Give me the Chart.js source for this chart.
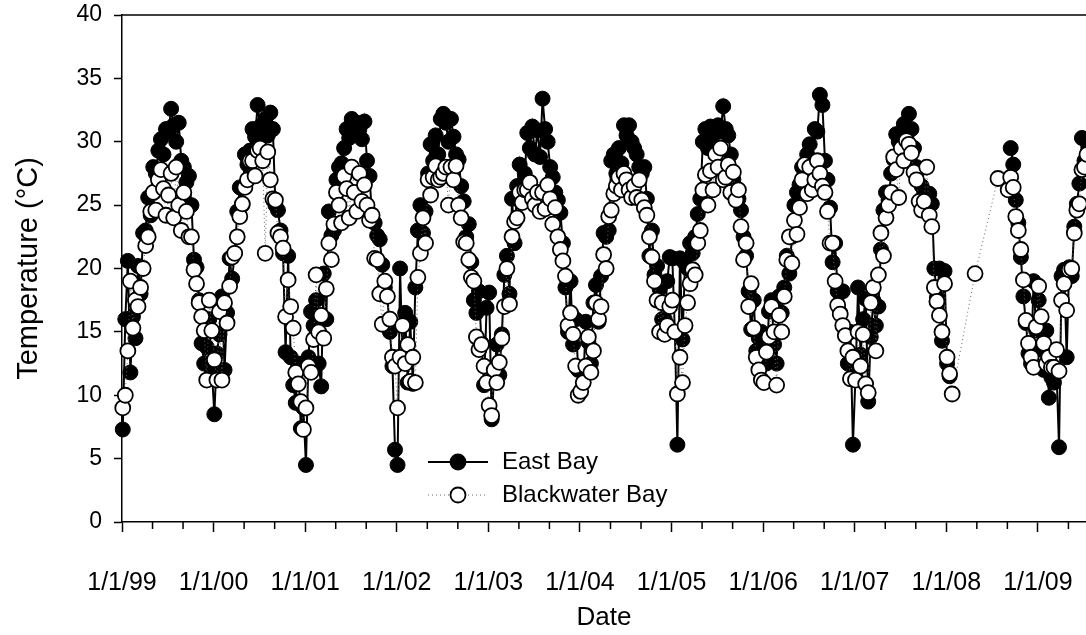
<!DOCTYPE html>
<html>
<head>
<meta charset="utf-8">
<title>Water temperature, East Bay and Blackwater Bay</title>
<script src="https://cdn.jsdelivr.net/npm/chart.js@4.4.1/dist/chart.umd.min.js"></script>
<style>
  html, body { margin: 0; padding: 0; background: #fff; }
  #wrap { width: 1086px; height: 635px; }
</style>
</head>
<body>
<div id="wrap"><canvas id="chart" width="1086" height="635"></canvas></div>
<script>
// sampling dates (M/D/YY), three per month
const sampleDates = [
  "1/4/99","1/14/99","1/24/99","2/4/99","2/14/99","2/24/99","3/4/99","3/14/99","3/24/99","4/4/99","4/14/99","4/24/99","5/4/99","5/14/99","5/24/99","6/4/99","6/14/99","6/24/99","7/4/99","7/14/99","7/24/99","8/4/99","8/14/99","8/24/99","9/4/99","9/14/99","9/24/99","10/4/99","10/14/99","10/24/99","11/4/99","11/14/99","11/24/99","12/4/99","12/14/99","12/24/99",
  "1/4/00","1/14/00","1/24/00","2/4/00","2/14/00","2/24/00","3/4/00","3/14/00","3/24/00","4/4/00","4/14/00","4/24/00","5/4/00","5/14/00","5/24/00","6/4/00","6/14/00","6/24/00","7/4/00","7/14/00","7/24/00","8/4/00","8/14/00","8/24/00","9/4/00","9/14/00","9/24/00","10/4/00","10/14/00","10/24/00","11/4/00","11/14/00","11/24/00","12/4/00","12/14/00","12/24/00",
  "1/4/01","1/14/01","1/24/01","2/4/01","2/14/01","2/24/01","3/4/01","3/14/01","3/24/01","4/4/01","4/14/01","4/24/01","5/4/01","5/14/01","5/24/01","6/4/01","6/14/01","6/24/01","7/4/01","7/14/01","7/24/01","8/4/01","8/14/01","8/24/01","9/4/01","9/14/01","9/24/01","10/4/01","10/14/01","10/24/01","11/4/01","11/14/01","11/24/01","12/4/01","12/14/01","12/24/01",
  "1/4/02","1/14/02","1/24/02","2/4/02","2/14/02","2/24/02","3/4/02","3/14/02","3/24/02","4/4/02","4/14/02","4/24/02","5/4/02","5/14/02","5/24/02","6/4/02","6/14/02","6/24/02","7/4/02","7/14/02","7/24/02","8/4/02","8/14/02","8/24/02","9/4/02","9/14/02","9/24/02","10/4/02","10/14/02","10/24/02","11/4/02","11/14/02","11/24/02","12/4/02","12/14/02","12/24/02",
  "1/4/03","1/14/03","1/24/03","2/4/03","2/14/03","2/24/03","3/4/03","3/14/03","3/24/03","4/4/03","4/14/03","4/24/03","5/4/03","5/14/03","5/24/03","6/4/03","6/14/03","6/24/03","7/4/03","7/14/03","7/24/03","8/4/03","8/14/03","8/24/03","9/4/03","9/14/03","9/24/03","10/4/03","10/14/03","10/24/03","11/4/03","11/14/03","11/24/03","12/4/03","12/14/03","12/24/03",
  "1/4/04","1/14/04","1/24/04","2/4/04","2/14/04","2/24/04","3/4/04","3/14/04","3/24/04","4/4/04","4/14/04","4/24/04","5/4/04","5/14/04","5/24/04","6/4/04","6/14/04","6/24/04","7/4/04","7/14/04","7/24/04","8/4/04","8/14/04","8/24/04","9/4/04","9/14/04","9/24/04","10/4/04","10/14/04","10/24/04","11/4/04","11/14/04","11/24/04","12/4/04","12/14/04","12/24/04",
  "1/4/05","1/14/05","1/24/05","2/4/05","2/14/05","2/24/05","3/4/05","3/14/05","3/24/05","4/4/05","4/14/05","4/24/05","5/4/05","5/14/05","5/24/05","6/4/05","6/14/05","6/24/05","7/4/05","7/14/05","7/24/05","8/4/05","8/14/05","8/24/05","9/4/05","9/14/05","9/24/05","10/4/05","10/14/05","10/24/05","11/4/05","11/14/05","11/24/05","12/4/05","12/14/05","12/24/05",
  "1/4/06","1/14/06","1/24/06","2/4/06","2/14/06","2/24/06","3/4/06","3/14/06","3/24/06","4/4/06","4/14/06","4/24/06","5/4/06","5/14/06","5/24/06","6/4/06","6/14/06","6/24/06","7/4/06","7/14/06","7/24/06","8/4/06","8/14/06","8/24/06","9/4/06","9/14/06","9/24/06","10/4/06","10/14/06","10/24/06","11/4/06","11/14/06","11/24/06","12/4/06","12/14/06","12/24/06",
  "1/4/07","1/14/07","1/24/07","2/4/07","2/14/07","2/24/07","3/4/07","3/14/07","3/24/07","4/4/07","4/14/07","4/24/07","5/4/07","5/14/07","5/24/07","6/4/07","6/14/07","6/24/07","7/4/07","7/14/07","7/24/07","8/4/07","8/14/07","8/24/07","9/4/07","9/14/07","9/24/07","10/4/07","10/14/07","10/24/07","11/4/07","11/14/07","11/24/07","12/4/07","12/14/07","12/24/07",
  "1/4/08","1/14/08","1/24/08","2/4/08","2/14/08","2/24/08","3/4/08","3/14/08","3/24/08","4/4/08","4/14/08","4/24/08","5/4/08","5/14/08","5/24/08","6/4/08","6/14/08","6/24/08","7/4/08","7/14/08","7/24/08","8/4/08","8/14/08","8/24/08","9/4/08","9/14/08","9/24/08","10/4/08","10/14/08","10/24/08","11/4/08","11/14/08","11/24/08","12/4/08","12/14/08","12/24/08",
  "1/4/09","1/14/09","1/24/09","2/4/09","2/14/09","2/24/09","3/4/09","3/14/09","3/24/09","4/4/09","4/14/09","4/24/09","5/4/09","5/14/09","5/24/09","6/4/09","6/14/09","6/24/09","7/4/09","7/14/09","7/24/09"
];

// East Bay temperature (C), one line per year
const eastBay = [
  7.3,16.0,20.6, 11.8,16.2,14.5, 20.2,18.0,22.8, 23.0,25.6,24.2, 28.0,27.5,29.3, 30.2,29.0,31.0, 30.8,32.6,31.3, 30.0,31.5,28.5, 28.0,26.8,27.3, 25.0,20.7,20.1, 17.5,14.1,12.5, 13.8,16.0,12.0,
  8.5,13.3,14.8, 17.8,12.0,16.5, 20.8,19.2,21.2, 24.5,26.4,25.0, 29.0,28.2,29.3, 31.0,30.4,32.9, 31.2,30.6,31.8, 30.5,32.3,31.0, 25.0,24.6,23.0, 21.2,13.4,21.0, 13.0,10.8,9.4, 12.5,7.4,9.0,
  4.5,13.0,16.6, 15.5,17.5,12.5, 10.7,19.6,16.0, 24.5,22.6,23.0, 27.0,28.0,28.3, 29.5,31.0,30.3, 31.8,30.6,31.5, 31.0,30.2,31.6, 28.5,27.3,24.0, 23.6,22.6,22.3, 20.3,18.5,17.8, 15.0,12.3,5.7,
  4.5,20.0,12.6, 16.5,11.0,15.8, 10.9,18.5,23.0, 25.0,22.8,24.5, 27.5,29.8,28.5, 30.5,29.0,31.8, 32.2,31.5,30.0, 31.8,30.4,29.0, 28.6,26.5,25.3, 22.5,23.5,20.5, 17.5,16.5,18.2, 14.1,10.8,16.9,
  18.1,8.1,11.6, 14.0,11.6,14.8, 19.5,21.0,18.0, 25.5,22.0,26.5, 28.2,26.0,27.5, 30.7,29.5,31.2, 29.0,30.9,28.8, 33.4,31.0,30.0, 28.0,27.2,26.0, 25.4,24.4,22.0, 18.5,15.0,19.0, 14.0,16.0,12.0,
  12.0,11.0,15.8, 14.2,12.5,17.3, 18.7,15.8,19.4, 22.8,22.5,23.0, 28.5,29.0,27.5, 29.5,28.3,31.3, 30.5,31.3,30.0, 29.5,29.0,28.0, 27.5,28.0,25.5, 21.0,23.0,19.5, 20.2,18.4,16.0, 16.0,19.0,20.9,
  20.8,15.0,6.1, 20.8,14.4,20.4, 20.0,22.0,21.2, 22.5,24.3,25.5, 30.0,31.0,29.5, 31.2,30.5,31.0, 31.3,30.8,32.8, 31.0,30.5,29.0, 27.0,26.0,25.5, 24.6,22.5,21.0, 18.2,15.2,17.5, 13.5,14.5,15.0,
  13.0,12.5,16.6, 17.5,14.0,12.5, 17.8,16.5,18.5, 21.0,19.6,22.5, 25.0,26.0,26.6, 28.0,27.5,29.0, 29.8,28.5,31.0, 30.8,33.7,32.9, 28.5,27.0,24.8, 20.5,22.0,18.2, 16.5,18.2,14.8, 12.5,15.0,6.1,
  11.5,18.5,13.2, 16.0,17.6,9.5, 14.6,17.5,15.5, 17.0,21.5,24.6, 26.0,25.4,27.5, 28.6,30.6,30.0, 29.5,31.4,30.5, 32.2,31.0,29.5, 28.0,27.8,26.5, 26.0,25.3,25.9, 25.1,20.0,17.7, 20.0,14.3,19.8,
  12.5,11.5,null, null,null,null, null,null,null, null,null,null, null,null,null, null,null,null, null,null,null, null,null,null, null,29.5,28.2, 25.4,23.6,20.9, 17.8,15.7,13.3, 12.5,19.0,15.1,
  17.5,13.6,12.0, 15.1,9.8,11.4, 11.0,12.0,5.9, 19.4,19.9,13.0, 20.1,19.4,23.3, 25.1,26.7,30.3, 28.5,30.0,31.0
];

// Blackwater Bay temperature (C), one line per year
const blackwaterBay = [
  9.0,10.0,13.5, 19.0,15.3,17.5, 17.0,18.5,20.0, 21.8,22.5,24.5, 26.0,24.6,27.0, 27.8,26.3,24.2, 25.8,27.5,24.0, 28.0,25.0,23.0, 26.0,24.5,22.5, 22.5,19.9,18.8, 17.3,16.2,15.1, 11.2,17.5,15.1,
  12.8,11.2,16.6, 11.2,17.3,15.7, 18.6,20.9,21.2, 22.5,24.1,25.1, 26.4,27.0,28.5, 28.5,27.3,29.3, 29.5,28.5,21.2, 29.2,27.0,25.5, 25.4,22.8,22.5, 21.6,16.2,19.1, 17.0,15.3,11.8, 10.9,9.5,7.3,
  9.0,12.3,11.8, 14.4,19.5,15.0, 16.3,14.5,18.4, 22.0,20.7,23.5, 26.0,25.0,23.6, 27.3,26.3,24.0, 28.0,26.0,24.5, 27.5,25.3,26.6, 25.0,23.8,24.2, 20.8,20.7,18.0, 15.6,19.0,17.8, 16.0,13.0,12.3,
  9.0,13.0,15.5, 12.5,14.0,11.1, 13.0,11.0,19.3, 21.2,24.0,22.0, 27.0,25.8,27.2, 28.1,27.0,27.2, 27.5,28.0,25.0, 28.0,27.0,28.1, 25.0,24.0,22.1, 22.0,20.7,19.3, 19.0,14.6,13.6, 14.0,12.3,11.0,
  9.2,8.4,12.0, 11.0,12.6,14.5, 17.0,20.0,17.2, 22.5,23.7,24.0, 26.0,25.2,26.2, 26.2,26.8,25.5, 25.0,26.0,24.5, 26.0,24.7,26.6, 25.5,23.5,24.8, 22.5,21.5,20.6, 19.4,15.5,16.5, 14.8,12.3,10.0,
  10.3,11.0,12.3, 14.6,11.8,13.5, 17.3,16.0,17.0, 21.1,20.0,24.1, 24.6,25.9,26.5, 27.2,26.2,27.5, 27.0,26.2,25.6, 26.5,25.6,27.0, 25.4,24.8,24.2, 22.5,20.9,19.0, 17.5,15.0,17.3, 14.8,15.5,17.0,
  17.5,15.0,10.1, 13.0,11.0,15.5, 17.3,18.8,19.9, 19.5,22.0,23.0, 26.2,27.4,25.0, 27.7,26.2,29.0, 28.0,29.5,27.0, 27.2,28.2,26.0, 27.6,25.4,26.2, 23.3,20.7,22.0, 17.0,18.8,15.3, 13.0,12.0,11.2,
  11.0,13.4,14.6, 17.0,15.0,10.8, 16.3,15.0,17.8, 20.7,22.5,20.4, 23.8,22.7,24.8, 27.0,28.2,25.9, 28.0,26.2,27.0, 28.5,27.5,26.5, 26.0,24.5,22.0, 22.0,19.0,17.1, 16.4,15.5,14.7, 13.5,11.3,13.0,
  11.2,15.0,12.3, 14.8,10.9,10.2, 17.3,18.5,13.5, 19.5,22.8,21.0, 24.0,25.0,26.0, 28.8,27.8,25.6, 29.5,28.5,30.1, 29.8,29.1,27.6, 27.0,25.3,24.6, 25.3,28.0,24.2, 23.3,18.5,17.4, 16.3,15.0,18.8,
  13.0,11.7,10.1, null,null,null, null,null,null, null,null,19.6, null,null,null, null,null,null, null,null,27.1, null,null,null, 26.2,27.2,26.4, 24.1,23.0,21.5, 19.1,15.9,14.1, 13.0,12.2,15.4,
  18.6,16.2,14.1, 12.5,13.0,12.2, 12.2,13.6,11.9, 17.5,18.8,16.7, 19.9,20.0,22.8, 24.6,25.1,27.8, 28.0,29.0,28.5
];

// axis: months after 1/1/99, labelled every January 1st
const yearTicks = [0, 12, 24, 36, 48, 60, 72, 84, 96, 108, 120];
const yMin = 0, yMax = 40, yStep = 5;
const xMin = 0, xMax = 126.3;

const FONT = "'Liberation Sans', Arial, Helvetica, sans-serif";

function toMonths(s) {
  const [m, d, y] = s.split("/").map(Number);
  const year = y < 50 ? 2000 + y : 1900 + y;
  return (year - 1999) * 12 + (m - 1) + (d - 1) / 30;
}

const xs = sampleDates.map(toMonths);
const points = vals => vals.map((v, i) => ({ x: xs[i], y: v }));

// top frame line, minor x ticks (every 4 months) and the in-plot legend
const extras = {
  id: "extras",
  afterDraw(chart) {
    const { ctx, chartArea: a, scales: { x } } = chart;
    ctx.save();
    ctx.strokeStyle = "#000";
    ctx.lineWidth = 1.5;
    ctx.beginPath();
    ctx.moveTo(a.left, a.top);
    ctx.lineTo(a.right, a.top);
    for (let m = 4; m <= x.max; m += 4) {
      if (m % 12 === 0) continue;
      const px = x.getPixelForValue(m);
      ctx.moveTo(px, a.bottom);
      ctx.lineTo(px, a.bottom + 7);
    }
    ctx.stroke();

    const rows = [
      { text: "East Bay", y: 462, fill: "#000", dash: [], line: "#000", lw: 2 },
      { text: "Blackwater Bay", y: 495, fill: "#fff", dash: [1, 3], line: "#666", lw: 1 }
    ];
    rows.forEach(r => {
      ctx.beginPath();
      ctx.setLineDash(r.dash);
      ctx.strokeStyle = r.line;
      ctx.lineWidth = r.lw;
      ctx.moveTo(428, r.y);
      ctx.lineTo(488, r.y);
      ctx.stroke();
      ctx.setLineDash([]);
      ctx.beginPath();
      ctx.arc(458, r.y, 7.5, 0, Math.PI * 2);
      ctx.fillStyle = r.fill;
      ctx.fill();
      ctx.strokeStyle = "#000";
      ctx.lineWidth = 1.8;
      ctx.stroke();
      ctx.fillStyle = "#000";
      ctx.font = "24px " + FONT;
      ctx.textAlign = "left";
      ctx.textBaseline = "middle";
      ctx.fillText(r.text, 502, r.y);
    });
    ctx.restore();
  }
};

new Chart(document.getElementById("chart"), {
  type: "line",
  data: {
    datasets: [
      {
        label: "Blackwater Bay",
        data: points(blackwaterBay),
        borderColor: "#666",
        borderWidth: 1,
        borderDash: [1, 3],
        pointRadius: 7.5,
        pointBackgroundColor: "#fff",
        pointBorderColor: "#000",
        pointBorderWidth: 1.8,
        spanGaps: true,
        clip: false
      },
      {
        label: "East Bay",
        data: points(eastBay),
        borderColor: "#000",
        borderWidth: 2,
        pointRadius: 7.5,
        pointBackgroundColor: "#000",
        pointBorderColor: "#000",
        pointBorderWidth: 1,
        spanGaps: false,
        clip: false
      }
    ]
  },
  options: {
    responsive: false,
    animation: false,
    devicePixelRatio: 1,
    events: [],
    layout: { autoPadding: false, padding: { top: 15, right: 0, bottom: 0, left: 0 } },
    plugins: { legend: { display: false }, tooltip: { enabled: false } },
    scales: {
      x: {
        type: "linear",
        min: xMin,
        max: xMax,
        afterBuildTicks: s => { s.ticks = yearTicks.map(value => ({ value })); },
        afterFit: s => { s.height = 113; s.paddingLeft = 0; s.paddingRight = 0; },
        ticks: {
          autoSkip: false,
          maxRotation: 0,
          padding: 36,
          color: "#000",
          font: { family: FONT, size: 25 },
          callback: v => "1/1/" + String((1999 + v / 12) % 100).padStart(2, "0")
        },
        grid: { drawOnChartArea: false, tickLength: 10, tickColor: "#000", tickWidth: 1.5 },
        border: { display: true, color: "#000", width: 1.5 },
        title: { display: true, text: "Date", color: "#000", font: { family: FONT, size: 26 }, padding: { top: 0, bottom: 2 } }
      },
      y: {
        min: yMin,
        max: yMax,
        afterFit: s => { s.width = 122; s.paddingTop = 0; s.paddingBottom = 0; },
        ticks: { stepSize: yStep, padding: 12, color: "#000", font: { family: FONT, size: 23 } },
        grid: { drawOnChartArea: false, tickLength: 8, tickColor: "#000", tickWidth: 1.5 },
        border: { display: true, color: "#000", width: 1.5 },
        title: { display: true, text: "Temperature (\u00B0C)", color: "#000", font: { family: FONT, size: 29 }, padding: { top: 12, bottom: 0 } }
      }
    }
  },
  plugins: [extras]
});
</script>
</body>
</html>
